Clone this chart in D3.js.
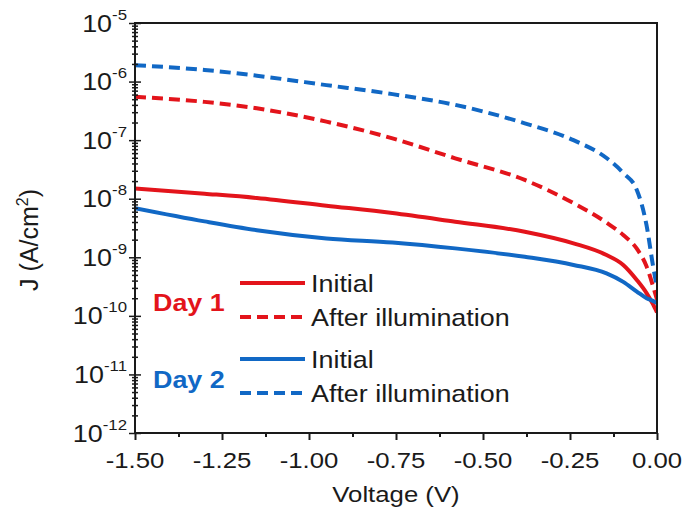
<!DOCTYPE html>
<html>
<head>
<meta charset="utf-8">
<script src="https://cdn.jsdelivr.net/npm/d3@7"></script>
<style>
  html, body { margin: 0; padding: 0; background: #ffffff; }
  svg { display: block; }
  text { font-family: "Liberation Sans", Arial, Helvetica, sans-serif; fill: #1a1a1a; }
</style>
</head>
<body>
<svg id="chart" width="688" height="515"></svg>
<script>
// Bias voltage (V) at which each J–V trace is sampled
const voltage = [-1.5, -1.3, -1.15, -0.95, -0.76, -0.58, -0.38, -0.24, -0.145, -0.097, -0.058, -0.03, -0.012, 0];

// Current density |J| (A/cm^2)
const day1Initial = [1.5e-8, 1.22e-8, 1.03e-8, 7.6e-9, 5.7e-9, 4.05e-9, 2.73e-9, 1.73e-9, 1.09e-9, 7.4e-10, 4.1e-10, 2.45e-10, 1.6e-10, 1.15e-10];
const day1After   = [5.5e-7, 4.5e-7, 3.5e-7, 2.07e-7, 1.07e-7, 4.9e-8, 2.09e-8, 8.4e-9, 3.9e-9, 2.4e-9, 1.4e-9, 7.0e-10, 3.3e-10, 1.9e-10];
const day2Initial = [6.9e-9, 4.1e-9, 2.9e-9, 2.1e-9, 1.79e-9, 1.42e-9, 1.02e-9, 7.4e-10, 5.3e-10, 3.8e-10, 2.6e-10, 2.0e-10, 1.8e-10, 1.65e-10];
const day2After   = [1.9e-6, 1.58e-6, 1.26e-6, 8.7e-7, 6.1e-7, 4.0e-7, 1.94e-7, 1.0e-7, 4.95e-8, 2.75e-8, 1.41e-8, 3.5e-9, 7.5e-10, 3.0e-10];

// Axis ticks
const xTicks = [-1.5, -1.25, -1.0, -0.75, -0.5, -0.25, 0];
const xTickLabels = ["-1.50", "-1.25", "-1.00", "-0.75", "-0.50", "-0.25", "0.00"];
const yExponents = [-12, -11, -10, -9, -8, -7, -6, -5];

const RED = "#e3141b";
const BLUE = "#1168c5";
const SX = 1.12; // horizontal widening of the lettering

const series = [
  { values: day1Initial, color: RED,  dashed: false },
  { values: day1After,   color: RED,  dashed: true  },
  { values: day2Initial, color: BLUE, dashed: false },
  { values: day2After,   color: BLUE, dashed: true  }
];

const svg = d3.select("#chart");
const plotL = 135, plotR = 657, plotT = 23, plotB = 433;

const x = d3.scaleLinear().domain([-1.5, 0]).range([plotL, plotR]);
const y = d3.scaleLog().domain([1e-12, 1e-5]).range([plotB, plotT]);

// clip the traces to the plotting frame
svg.append("defs").append("clipPath").attr("id", "plotClip")
  .append("rect").attr("x", plotL).attr("y", plotT)
  .attr("width", plotR - plotL).attr("height", plotB - plotT);

const line = d3.line()
  .x((d, i) => x(voltage[i]))
  .y(d => y(d))
  .curve(d3.curveMonotoneX);

const traces = svg.append("g").attr("clip-path", "url(#plotClip)");
series.forEach(s => {
  traces.append("path")
    .attr("d", line(s.values))
    .attr("fill", "none")
    .attr("stroke", s.color)
    .attr("stroke-width", 4)
    .attr("stroke-dasharray", s.dashed ? "11,6" : null);
});

// ---- frame ----
const frameColor = "#1a1a1a";
svg.append("rect")
  .attr("x", plotL).attr("y", plotT)
  .attr("width", plotR - plotL).attr("height", plotB - plotT)
  .attr("fill", "none").attr("stroke", frameColor).attr("stroke-width", 2);

// ---- x axis ----
const xAxis = svg.append("g").attr("transform", `translate(0,${plotB})`)
  .call(d3.axisBottom(x).tickValues(xTicks).tickSize(7).tickFormat(""));
const xMinor = svg.append("g").attr("transform", `translate(0,${plotB})`)
  .call(d3.axisBottom(x).tickValues(d3.range(-1.375, 0, 0.25)).tickSize(4).tickFormat(""));
[xAxis, xMinor].forEach(g => {
  g.select(".domain").remove();
  g.selectAll(".tick line").attr("stroke", frameColor).attr("stroke-width", 2);
});

xTicks.forEach((v, i) => {
  svg.append("text")
    .attr("transform", `translate(${x(v)},468) scale(${SX},1)`)
    .attr("text-anchor", "middle")
    .attr("font-size", 23)
    .text(xTickLabels[i]);
});

svg.append("text")
  .attr("transform", `translate(${(plotL + plotR) / 2},502) scale(${SX},1)`)
  .attr("text-anchor", "middle")
  .attr("font-size", 23)
  .text("Voltage (V)");

// ---- y axis ----
const yMajorVals = yExponents.map(e => Math.pow(10, e));
const yMinorVals = [];
yExponents.slice(0, -1).forEach(e => {
  for (let m = 2; m <= 9; m++) yMinorVals.push(m * Math.pow(10, e));
});
const yAxis = svg.append("g").attr("transform", `translate(${plotL},0)`)
  .call(d3.axisLeft(y).tickValues(yMajorVals).tickSize(6).tickFormat(""));
const yMinor = svg.append("g").attr("transform", `translate(${plotL},0)`)
  .call(d3.axisLeft(y).tickValues(yMinorVals).tickSize(3).tickFormat(""));
yAxis.selectAll(".tick line").attr("x1", 6);
yMinor.selectAll(".tick line").attr("x1", 3);
[yAxis, yMinor].forEach(g => {
  g.select(".domain").remove();
  g.selectAll(".tick line").attr("stroke", frameColor).attr("stroke-width", 1.5);
});

yExponents.forEach(e => {
  const t = svg.append("text")
    .attr("transform", `translate(${plotL - 8},${y(Math.pow(10, e)) + 8.5}) scale(${SX},1)`)
    .attr("text-anchor", "end")
    .attr("font-size", 24);
  t.append("tspan").text("10");
  t.append("tspan").attr("font-size", 15).attr("dy", -12).text(String(e));
});

const yTitle = svg.append("text")
  .attr("transform", `translate(38,240) rotate(-90)`)
  .attr("text-anchor", "middle")
  .attr("font-size", 25);
yTitle.append("tspan").text("J (A/cm");
yTitle.append("tspan").attr("font-size", 16).attr("dy", -10).text("2");
yTitle.append("tspan").attr("dy", 10).text(")");

// ---- legend ----
const legendRows = [
  { label: "Initial",            color: RED,  dashed: false, y: 283 },
  { label: "After illumination", color: RED,  dashed: true,  y: 317 },
  { label: "Initial",            color: BLUE, dashed: false, y: 359 },
  { label: "After illumination", color: BLUE, dashed: true,  y: 393 }
];
legendRows.forEach(r => {
  svg.append("line")
    .attr("x1", 240).attr("x2", 305)
    .attr("y1", r.y).attr("y2", r.y)
    .attr("stroke", r.color).attr("stroke-width", 4)
    .attr("stroke-dasharray", r.dashed ? "11,6" : null);
  svg.append("text")
    .attr("transform", `translate(311,${r.y + 8.5}) scale(${SX},1)`)
    .attr("font-size", 24)
    .text(r.label);
});

const dayLabels = [
  { label: "Day 1", color: RED,  y: 311 },
  { label: "Day 2", color: BLUE, y: 388 }
];
dayLabels.forEach(d => {
  svg.append("text")
    .attr("transform", `translate(153,${d.y}) scale(${SX},1)`)
    .attr("font-size", 24)
    .attr("font-weight", "bold")
    .style("fill", d.color)
    .text(d.label);
});
</script>
</body>
</html>
